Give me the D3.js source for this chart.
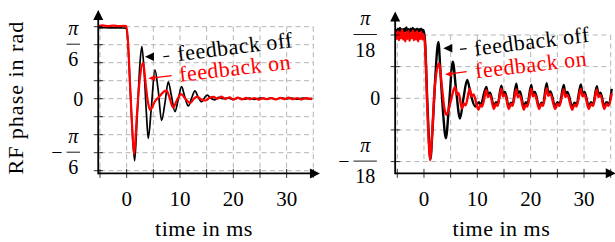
<!DOCTYPE html>
<html><head><meta charset="utf-8">
<script src="https://cdn.jsdelivr.net/npm/d3@7"></script>
<style>
body{margin:0;background:#fff}
svg{display:block}
</style>
</head><body>
<svg id="c" width="615" height="242" font-family="'Liberation Serif', 'Times New Roman', 'DejaVu Serif', serif" style="font-family:'Liberation Serif','Times New Roman','DejaVu Serif',serif"></svg>
<script>
// ---------------- DATA ----------------
// time in ms, phase in degrees (pi/18 = 10 deg, pi/36 = 5 deg)
const xTickValues = [-5, 0, 5, 10, 15, 20, 25, 30, 35];
const xTickLabels = [0, 10, 20, 30];

const leftGridValues = [-40, -30, -20, -10, 0, 10, 20, 30, 40];
const leftYTickValues = [-30, 0, 30];
const leftYTickLabels = ["−π/6", "0", "π/6"];

const rightGridValues = [-10, -5, 0, 5, 10];
const rightYTickValues = [-10, 0, 10];
const rightYTickLabels = ["−π/18", "0", "π/18"];

const seriesNames = ["feedback off", "feedback on"];

const leftOff = [[-5.3,39.4],[-4,39.5],[-3,39.3],[-2,39.4],[-1,39.3],[-0.1,39.2],
 [0.2,33],[0.6,10],[1.0,-15],[1.5,-34.5],[2.0,-8],[2.5,20],[2.85,29],[3.3,14],[3.7,-8],[4.05,-22],
 [4.6,-6],[5.3,16],[5.9,5],[6.55,-12],[7.2,-2],[7.8,9.4],[8.4,1.5],[9.05,-7.2],[9.7,0],[10.3,6.7],
 [10.9,1],[11.55,-4],[12.2,0.5],[12.8,4.4],[13.4,1],[14.05,-1.7],[14.6,0.5],[15.1,2],[15.8,0.2],
 [16.5,-0.6],[17.3,0.8],[18,0],[19,0.5],[20,-0.4],[21,0.4],[22,-0.3],[23,0.3],[24,-0.4],[25,0.4],
 [26,-0.1],[27,0.3],[28,-0.3],[29,0.5],[30,-0.1],[31,0.3],[32,-0.3],[33,0.4],[34,-0.1],[34.8,0.2]];

const leftOn = [[-5.3,40.4],[-4.5,40.7],[-3.5,40.3],[-2.5,40.6],[-1.5,40.3],[-0.6,40.5],[-0.1,40.3],
 [0.2,34],[0.6,10],[1.0,-14],[1.4,-31],[1.9,-10],[2.5,12],[3.1,20],[3.5,10],[4.0,-2],[4.4,-6.3],
 [5.3,-1.5],[6.2,1.5],[7.0,4],[7.5,4.5],[8.0,1],[8.7,-5],[9.4,-1],[10.2,2.5],[11.0,0],[11.9,-2.5],
 [12.6,0],[13.2,1.2],[14,-0.5],[14.8,-1],[15.5,0.4],[16.3,1],[17,0],[17.8,1.2],[18.5,-0.2],[19.3,0.8],
 [20,-0.5],[20.8,0.6],[21.6,-0.4],[22.4,0.5],[23.2,-0.3],[24,0.4],[24.8,-0.5],[25.6,0.3],[26.4,-0.3],
 [27.2,0.4],[28,-0.4],[28.8,0.5],[29.6,-0.2],[30.4,0.6],[31.2,-0.3],[32,0.4],[32.8,-0.4],[33.6,0.3],[34.8,-0.3]];

const rightOff = [[-5.3,10.9],[-5.1,10.4],[-4.9,11.0],[-4.7,10.5],[-4.5,11.1],[-4.3,10.6],[-4.1,10.9],
 [-3.9,10.3],[-3.7,11.0],[-3.5,10.6],[-3.3,11.2],[-3.1,10.5],[-2.9,10.9],[-2.7,10.4],[-2.5,11.0],
 [-2.3,10.6],[-2.1,11.1],[-1.9,10.5],[-1.7,10.9],[-1.5,10.4],[-1.3,11.0],[-1.1,10.5],[-0.9,10.9],
 [-0.7,10.6],[-0.5,11.0],[-0.3,10.5],[-0.1,10.8],
 [0.2,9],[0.6,0],[0.9,-6],[1.2,-9.6],[1.6,-5],[2.1,3],[2.7,8.9],[3.1,4],[3.6,-2.5],[4.1,-6.3],
 [4.7,-1],[5.4,5.8],[6.0,1.5],[6.75,-3.2],[7.4,0],[8.1,2.9],[8.8,0.5],[9.6,-1.3],[10.3,-0.6],[10.6,-1.0],
 [11.7,1.8],[12.0,0.6],[12.4,0.9],[13.1,-1.3],[13.5,-0.6],[13.8,-1.0],[14.5,2.0],[14.8,0.7],[15.2,1.0],
 [15.9,-1.4],[16.3,-0.7],[16.6,-1.0],[17.3,2.3],[17.6,0.8],[18.0,1.1],[18.7,-1.3],[19.1,-0.6],[19.4,-0.9],
 [20.1,2.1],[20.4,0.7],[20.8,1.0],[21.6,-1.4],[22.0,-0.7],[22.3,-1.0],[23.0,2.4],[23.3,0.8],[23.7,1.1],
 [24.6,-1.3],[25.0,-0.6],[25.4,-1.0],[26.2,2.1],[26.5,0.7],[26.9,1.0],[27.8,-1.4],[28.2,-0.7],[28.6,-1.0],
 [29.4,2.2],[29.7,0.8],[30.1,1.0],[30.9,-1.3],[31.3,-0.6],[31.7,-1.0],[32.4,1.9],[32.7,0.6],[33.1,0.9],
 [33.8,-1.3],[34.2,-0.6],[34.6,-0.9],[35.2,1.5]];

const rightOn = [[-5.3,10.5],[-5.1,9.4],[-4.9,10.6],[-4.7,9.2],[-4.5,10.4],[-4.3,9.5],[-4.1,10.8],
 [-3.9,9.3],[-3.7,10.3],[-3.5,9.0],[-3.3,10.5],[-3.1,9.4],[-2.9,10.6],[-2.7,9.1],[-2.5,10.2],
 [-2.3,9.5],[-2.1,10.7],[-1.9,9.2],[-1.7,10.4],[-1.5,9.3],[-1.3,10.6],[-1.1,9.0],[-0.9,10.3],
 [-0.7,9.4],[-0.5,10.5],[-0.3,9.3],[-0.1,10.1],
 [0.2,8.5],[0.6,-1],[0.9,-7],[1.15,-9.8],[1.5,-6],[2.0,1.5],[2.8,5.5],[3.4,1.5],[3.8,-1.5],[4.25,-2.6],
 [5.0,-0.5],[5.8,1.8],[6.2,0.6],[6.5,0.8],[7.1,-1.6],[7.5,-0.8],[7.8,-1.1],
 [8.6,1.5],[8.9,0.3],[9.3,0.6],[10.2,-1.8],[10.6,-1.0],[10.9,-1.3],
 [11.7,1.3],[12.0,0.2],[12.4,0.5],[13.1,-1.7],[13.5,-0.9],[13.8,-1.2],
 [14.5,1.5],[14.8,0.3],[15.2,0.6],[15.9,-1.7],[16.3,-0.9],[16.6,-1.2],
 [17.3,1.4],[17.6,0.2],[18.0,0.5],[18.7,-1.8],[19.1,-1.0],[19.4,-1.3],
 [20.1,1.5],[20.4,0.3],[20.8,0.6],[21.6,-1.7],[22.0,-0.9],[22.3,-1.2],
 [23.0,1.6],[23.3,0.4],[23.7,0.7],[24.6,-1.7],[25.0,-0.9],[25.4,-1.2],
 [26.2,1.4],[26.5,0.2],[26.9,0.5],[27.8,-1.8],[28.2,-1.0],[28.6,-1.3],
 [29.4,1.5],[29.7,0.3],[30.1,0.6],[30.9,-1.7],[31.3,-0.9],[31.7,-1.2],
 [32.4,1.4],[32.7,0.2],[33.1,0.5],[33.8,-1.7],[34.2,-0.9],[34.6,-1.2],[35.2,0.8]];

// ---------------- LAYOUT ----------------
const FONT = "'Liberation Serif','Times New Roman','DejaVu Serif',serif";
const svg = d3.select("#c");
const panels = [
  { x: d3.scaleLinear().domain([-5,35]).range([100,313.3]),
    y: d3.scaleLinear().domain([-40,40]).range([170.7,26.7]),
    grid: leftGridValues, tv: leftYTickValues, tl: leftYTickLabels,
    data: [leftOff, leftOn], widths: [1.7, 2.2],
    axisT: -5.33, axisD: -41.5, tipT: 36.25, tipD: 49.3,
    ann: { offTip:[3.43,23.3], offDash:[[6.86,23.3],[7.99,23.7]], offText:[9.68,20.9],
           onTip:[4.05,11.3], onTail:[8.44,12.8], onText:[9.99,9.4] } },
  { x: d3.scaleLinear().domain([-5,35]).range([397.3,610.7]),
    y: d3.scaleLinear().domain([-10,10]).range([161.6,35]),
    grid: rightGridValues, tv: rightYTickValues, tl: rightYTickLabels,
    data: [rightOff, rightOn], widths: [2.4, 2.4],
    axisT: -5.4, axisD: -11.85, tipT: 35.95, tipD: 13.7,
    ann: { offTip:[3.62,7.9], offDash:[[6.75,7.74],[8.0,7.85]], offText:[9.56,6.73],
           onTip:[3.94,3.79], onTail:[8.0,4.2], onText:[9.75,3.16] } }
];
const colors = ["#000", "#ff0000"];

function txt(g) { return g.append("text").attr("font-family", FONT).style("font-family", FONT); }

panels.forEach((p, pi) => {
  const g = svg.append("g");
  const x = p.x, y = p.y;
  const ax = x(p.axisT), ay = y(p.axisD);
  const [x0, x1] = x.domain(), [y0, y1] = y.domain();
  // grid
  g.selectAll(".hg").data(p.grid).join("line")
    .attr("x1", x(x0)).attr("x2", x(x1)).attr("y1", d => y(d)).attr("y2", d => y(d))
    .attr("stroke", "#b5b5b5").attr("stroke-width", 1).attr("stroke-dasharray", "5,3.5");
  g.selectAll(".vg").data(xTickValues).join("line")
    .attr("x1", d => x(d)).attr("x2", d => x(d)).attr("y1", y(y1)).attr("y2", y(y0))
    .attr("stroke", "#b5b5b5").attr("stroke-width", 1).attr("stroke-dasharray", "5,3.5");
  // data
  const line = d3.line().x(d => x(d[0])).y(d => y(d[1])).curve(d3.curveMonotoneX);
  p.data.forEach((s, si) => {
    g.append("path").attr("d", line(s)).attr("fill", "none")
      .attr("stroke", colors[si]).attr("stroke-width", p.widths[si]).attr("stroke-linejoin", "round");
  });
  // axes
  const tipX = x(p.tipT), tipY = y(p.tipD);
  g.append("line").attr("x1", ax).attr("x2", tipX - 6).attr("y1", ay).attr("y2", ay)
    .attr("stroke", "#000").attr("stroke-width", 1.8);
  g.append("line").attr("x1", ax).attr("x2", ax).attr("y1", ay + 0.9).attr("y2", tipY + 6)
    .attr("stroke", "#000").attr("stroke-width", 1.8);
  g.append("path").attr("d", `M${tipX},${ay} L${tipX-10},${ay-5} L${tipX-10},${ay+5} Z`).attr("fill", "#000");
  g.append("path").attr("d", `M${ax},${tipY} L${ax-5},${tipY+10} L${ax+5},${tipY+10} Z`).attr("fill", "#000");
  // ticks
  g.selectAll(".xt").data(xTickValues).join("line")
    .attr("x1", d => x(d)).attr("x2", d => x(d)).attr("y1", ay - 4.5).attr("y2", ay + 4.5)
    .attr("stroke", "#000").attr("stroke-width", 0.8);
  g.selectAll(".yt").data(p.grid).join("line")
    .attr("x1", ax - 4.5).attr("x2", ax + 4.5).attr("y1", d => y(d)).attr("y2", d => y(d))
    .attr("stroke", "#000").attr("stroke-width", 0.8);
  xTickLabels.forEach(d => {
    txt(g).attr("x", x(d)).attr("y", ay + 33).attr("text-anchor", "middle")
      .attr("font-size", 21).text(d);
  });
  // y labels
  p.tv.forEach((v, i) => {
    const lab = p.tl[i], yy = y(v);
    if (lab.indexOf("/") < 0) {
      txt(g).attr("x", ax - 15).attr("y", yy + 7).attr("text-anchor", "end")
        .attr("font-size", 20).text(lab);
      return;
    }
    const neg = lab[0] === "−";
    const [num, den] = lab.replace("−", "").split("/");
    const barRight = ax - 18.3;
    const dt = txt(g).attr("font-size", 20).attr("text-anchor", "middle").text(den);
    const dw = dt.node().getComputedTextLength();
    const bw = dw + 3.4, cx = barRight - bw / 2;
    dt.attr("x", cx).attr("y", yy + 21.5);
    txt(g).attr("font-size", 20).attr("text-anchor", "middle").attr("font-style", "italic")
      .attr("x", cx).attr("y", yy - 10).text(num);
    g.append("line").attr("x1", barRight - bw).attr("x2", barRight).attr("y1", yy - 0.5).attr("y2", yy - 0.5)
      .attr("stroke", "#000").attr("stroke-width", 0.9);
    if (neg) txt(g).attr("font-size", 20).attr("text-anchor", "end")
      .attr("x", barRight - bw - 4).attr("y", yy + 6).text("−");
  });
  // x title
  txt(g).attr("x", x(14.5)).attr("y", 236).attr("text-anchor", "middle")
    .attr("font-size", 22).attr("letter-spacing", 0.5).text("time in ms");
  // annotations
  const a = p.ann;
  const P = q => [x(q[0]), y(q[1])];
  const [btx, bty] = P(a.offTip);
  g.append("path").attr("d", `M${btx},${bty} L${btx+9},${bty-4.3} L${btx+9},${bty+4.3} Z`).attr("fill", "#000");
  const d0 = P(a.offDash[0]), d1 = P(a.offDash[1]);
  g.append("line").attr("x1", d0[0]).attr("y1", d0[1]).attr("x2", d1[0]).attr("y2", d1[1])
    .attr("stroke", "#000").attr("stroke-width", 1.2);
  const ot = P(a.offText);
  txt(g).attr("transform", `translate(${ot[0]},${ot[1]}) rotate(-7)`)
    .attr("font-size", 22).attr("letter-spacing", 0.5).text(seriesNames[0]);
  const [rtx, rty] = P(a.onTip), [rlx, rly] = P(a.onTail);
  g.append("line").attr("x1", rlx).attr("y1", rly).attr("x2", rtx + 5).attr("y2", rty - 0.5)
    .attr("stroke", "#ff0000").attr("stroke-width", 1.3);
  g.append("path").attr("d", `M${rtx},${rty} L${rtx+7},${rty-3.4} L${rtx+7},${rty+2.6} Z`).attr("fill", "#ff0000");
  const nt = P(a.onText);
  txt(g).attr("transform", `translate(${nt[0]},${nt[1]}) rotate(-6.6)`)
    .attr("font-size", 22).attr("letter-spacing", 0.5).attr("fill", "#ff0000").text(seriesNames[1]);
});

// y title
txt(svg).attr("transform", `translate(22.5,${panels[0].y(0) - 1}) rotate(-90)`)
  .attr("text-anchor", "middle").attr("font-size", 22).attr("letter-spacing", 1).text("RF phase in rad");
</script>
</body></html>
